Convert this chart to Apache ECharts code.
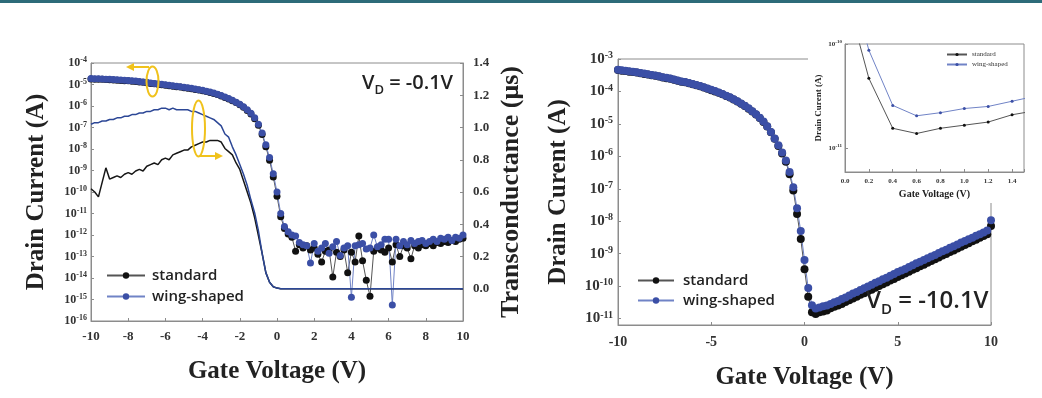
<!DOCTYPE html>
<html>
<head>
<meta charset="utf-8">
<script src="https://cdn.jsdelivr.net/npm/echarts@6/dist/echarts.min.js"></script>
<style>
html, body { margin: 0; padding: 0; background: #fff; }
#chart { width: 1042px; height: 398px; }
</style>
</head>
<body>
<div id="chart"></div>
<script>
// gate voltage sweep (V), shared by both panels
var gateV = [-10, -9.8, -9.6, -9.4, -9.2, -9, -8.8, -8.6, -8.4, -8.2, -8, -7.8, -7.6, -7.4, -7.2, -7, -6.8, -6.6, -6.4, -6.2,
    -6, -5.8, -5.6, -5.4, -5.2, -5, -4.8, -4.6, -4.4, -4.2, -4, -3.8, -3.6, -3.4, -3.2, -3, -2.8, -2.6, -2.4, -2.2,
    -2, -1.8, -1.6, -1.4, -1.2, -1, -0.8, -0.6, -0.4, -0.2, 0, 0.2, 0.4, 0.6, 0.8, 1, 1.2, 1.4, 1.6, 1.8,
    2, 2.2, 2.4, 2.6, 2.8, 3, 3.2, 3.4, 3.6, 3.8, 4, 4.2, 4.4, 4.6, 4.8, 5, 5.2, 5.4, 5.6, 5.8,
    6, 6.2, 6.4, 6.6, 6.8, 7, 7.2, 7.4, 7.6, 7.8, 8, 8.2, 8.4, 8.6, 8.8, 9, 9.2, 9.4, 9.6, 9.8, 10]

// V_D = -0.1V : drain current, log10(A)
var idLowStd = [-4.74, -4.75, -4.75, -4.76, -4.77, -4.78, -4.79, -4.80, -4.81, -4.82,
    -4.83, -4.85, -4.86, -4.88, -4.90, -4.92, -4.95, -4.97, -4.99, -5.01,
    -5.03, -5.06, -5.08, -5.10, -5.12, -5.15, -5.17, -5.20, -5.23, -5.26,
    -5.29, -5.33, -5.37, -5.42, -5.47, -5.53, -5.60, -5.67, -5.75, -5.84,
    -5.94, -6.06, -6.21, -6.37, -6.59, -6.90, -7.32, -7.90, -8.52, -9.30,
    -10.2, -11.15, -11.7, -11.95, -12.1, -12.75, -12.45, -12.6, -12.5, -12.7,
    -12.6, -12.9, -13.25, -12.75, -12.7, -13.95, -12.8, -13.0, -12.7, -13.75,
    -12.8, -13.25, -12.05, -13.2, -14.1, -14.85, -12.75, -12.6, -12.7, -12.8,
    -12.6, -13.25, -12.45, -13.0, -12.5, -12.6, -13.1, -12.5, -12.6, -12.45,
    -12.5, -12.4, -12.5, -12.35, -12.4, -12.3, -12.35, -12.25, -12.3, -12.2,
    -12.15]
var idLowWing = [-4.72, -4.73, -4.73, -4.74, -4.75, -4.76, -4.77, -4.78, -4.79, -4.80,
    -4.81, -4.83, -4.84, -4.86, -4.88, -4.90, -4.93, -4.95, -4.97, -4.99,
    -5.01, -5.04, -5.06, -5.08, -5.10, -5.13, -5.15, -5.18, -5.21, -5.24,
    -5.27, -5.31, -5.35, -5.40, -5.45, -5.51, -5.58, -5.65, -5.73, -5.82,
    -5.92, -6.04, -6.18, -6.34, -6.55, -6.85, -7.25, -7.80, -8.40, -9.15,
    -10.0, -11.0, -11.6, -11.85, -12.0, -12.05, -12.35, -12.45, -12.5, -13.3,
    -12.4, -12.75, -12.6, -12.4, -12.85, -12.55, -12.3, -12.95, -12.6, -12.5,
    -14.9, -12.5, -12.45, -12.4, -12.65, -12.6, -12.0, -12.55, -12.45, -12.2,
    -12.2, -15.25, -12.2, -12.5, -12.3, -12.45, -12.25, -12.4, -12.3, -12.25,
    -12.4, -12.3, -12.2, -12.3, -12.15, -12.2, -12.1, -12.25, -12.1, -12.15,
    -12.0]

// V_D = -0.1V : transconductance (us)
var gmStd = [0.62, 0.60, 0.57, 0.66, 0.75, 0.68, 0.69, 0.70, 0.69, 0.71,
    0.72, 0.71, 0.73, 0.74, 0.73, 0.76, 0.77, 0.78, 0.77, 0.80,
    0.81, 0.80, 0.83, 0.84, 0.85, 0.86, 0.86, 0.88, 0.89, 0.90,
    0.91, 0.91, 0.92, 0.92, 0.92, 0.91, 0.87, 0.85, 0.83, 0.78,
    0.74, 0.67, 0.60, 0.53, 0.44, 0.33, 0.22, 0.10, 0.04, 0.012,
    0.004, 0, 0, 0, 0, 0, 0, 0, 0, 0,
    0, 0, 0, 0, 0, 0, 0, 0, 0, 0,
    0, 0, 0, 0, 0, 0, 0, 0, 0, 0,
    0, 0, 0, 0, 0, 0, 0, 0, 0, 0,
    0, 0, 0, 0, 0, 0, 0, 0, 0, 0,
    0]
var gmWing = [1.02, 1.03, 1.03, 1.04, 1.04, 1.05, 1.05, 1.06, 1.06, 1.07,
    1.07, 1.08, 1.08, 1.09, 1.09, 1.10, 1.10, 1.11, 1.11, 1.12,
    1.12, 1.11, 1.12, 1.11, 1.11, 1.11, 1.11, 1.10, 1.10, 1.09,
    1.08, 1.07, 1.06, 1.05, 1.03, 1.01, 0.96, 0.94, 0.88, 0.83,
    0.77, 0.71, 0.64, 0.55, 0.47, 0.36, 0.22, 0.10, 0.04, 0.012,
    0.004, 0, 0, 0, 0, 0, 0, 0, 0, 0,
    0, 0, 0, 0, 0, 0, 0, 0, 0, 0,
    0, 0, 0, 0, 0, 0, 0, 0, 0, 0,
    0, 0, 0, 0, 0, 0, 0, 0, 0, 0,
    0, 0, 0, 0, 0, 0, 0, 0, 0, 0,
    0]

// V_D = -10.1V : drain current, log10(A)
var idHighStd = [-3.34, -3.36, -3.37, -3.39, -3.40, -3.42, -3.44, -3.46, -3.48, -3.50,
    -3.52, -3.54, -3.57, -3.59, -3.61, -3.64, -3.67, -3.70, -3.72, -3.75,
    -3.78, -3.81, -3.84, -3.88, -3.92, -3.96, -4.00, -4.04, -4.09, -4.14,
    -4.19, -4.25, -4.31, -4.38, -4.45, -4.53, -4.62, -4.71, -4.82, -4.94,
    -5.08, -5.26, -5.46, -5.68, -5.91, -6.17, -6.55, -7.05, -7.78, -8.55,
    -9.48, -10.33, -10.81, -10.86, -10.81, -10.78, -10.75, -10.68, -10.64, -10.60,
    -10.55, -10.49, -10.44, -10.38, -10.33, -10.27, -10.22, -10.16, -10.11, -10.05,
    -10.00, -9.94, -9.89, -9.83, -9.78, -9.72, -9.67, -9.61, -9.56, -9.50,
    -9.45, -9.39, -9.34, -9.28, -9.23, -9.17, -9.12, -9.06, -9.01, -8.95,
    -8.90, -8.84, -8.79, -8.73, -8.68, -8.62, -8.57, -8.51, -8.46, -8.40,
    -8.15]
var idHighWing = [-3.33, -3.35, -3.36, -3.38, -3.39, -3.41, -3.43, -3.45, -3.47, -3.49,
    -3.51, -3.53, -3.56, -3.58, -3.60, -3.63, -3.66, -3.69, -3.71, -3.74,
    -3.77, -3.80, -3.83, -3.87, -3.91, -3.95, -3.99, -4.03, -4.08, -4.13,
    -4.18, -4.24, -4.30, -4.37, -4.44, -4.52, -4.61, -4.70, -4.81, -4.93,
    -5.07, -5.25, -5.45, -5.66, -5.88, -6.13, -6.48, -6.95, -7.60, -8.30,
    -9.20, -10.06, -10.59, -10.69, -10.66, -10.62, -10.60, -10.55, -10.50, -10.46,
    -10.40, -10.35, -10.29, -10.23, -10.18, -10.12, -10.07, -10.01, -9.96, -9.90,
    -9.85, -9.79, -9.74, -9.68, -9.63, -9.57, -9.52, -9.47, -9.41, -9.36,
    -9.30, -9.25, -9.20, -9.14, -9.09, -9.04, -8.98, -8.93, -8.88, -8.82,
    -8.77, -8.72, -8.66, -8.61, -8.56, -8.51, -8.45, -8.40, -8.35, -8.29,
    -7.97]

var legendNames = ['standard', 'wing-shaped']

var serif = 'Liberation Serif'
var sans = 'Open Sans'
var axisGray = '#8c8c8c'

var chartDom = document.getElementById('chart')
var myChart = echarts.init(chartDom)

// zip the sweep with a data column
function pairs(arr) {
    return gateV.map(function (v, i) { return [v, arr[i]] })
}

// 10^n labels for log10 axes, only on whole decades
function decadeLabel(val) {
    var n = Math.round(val)
    if (Math.abs(val - n) > 1e-6) return ''
    return '{b|10}{s|' + n + '}'
}

function decadeRich(base, sup) {
    return {
        b: { fontFamily: serif, fontWeight: 'bold', fontSize: base, color: '#333', lineHeight: base + 2 },
        s: { fontFamily: serif, fontWeight: 'bold', fontSize: sup, color: '#333', verticalAlign: 'top', lineHeight: base + 2 }
    }
}

function axisBase(gridIndex, labelSize) {
    return {
        gridIndex: gridIndex,
        type: 'value',
        axisLine: { show: true, onZero: false, lineStyle: { color: axisGray } },
        axisTick: { show: true, inside: true, length: 3, lineStyle: { color: axisGray } },
        splitLine: { show: false },
        axisLabel: { fontFamily: serif, fontWeight: 'bold', fontSize: labelSize, color: '#333' },
        nameTextStyle: { fontFamily: serif, fontWeight: 'bold', color: '#222' }
    }
}

function merge(a, b) {
    return echarts.util.merge(a, b, true)
}

function idSeries(name, arr, xi, yi, size, z) {
    var blue = name === 'wing-shaped'
    return {
        type: 'line',
        name: name,
        xAxisIndex: xi,
        yAxisIndex: yi,
        data: pairs(arr),
        symbol: 'circle',
        symbolSize: size,
        showAllSymbol: true,
        itemStyle: { color: blue ? '#3b4fa6' : '#111' },
        lineStyle: { color: blue ? '#7083c6' : '#555', width: 1 },
        z: z || 2
    }
}

function getOption() {
    return {
        animation: false,
        backgroundColor: '#fff',
        grid: [
            { left: 91, top: 63, width: 372, height: 258, show: true, borderColor: axisGray, borderWidth: 1 },
            { left: 618, top: 59, width: 373, height: 266, show: true, borderColor: axisGray, borderWidth: 1 },
            { left: 845, top: 44, width: 179, height: 128, show: true, borderColor: axisGray, borderWidth: 1, z: 11 }
        ],
        xAxis: [
            merge(axisBase(0, 13), {
                min: -10, max: 10, interval: 2,
                axisLabel: { margin: 9 },
                name: 'Gate Voltage (V)', nameLocation: 'middle', nameGap: 38,
                nameTextStyle: { fontSize: 25 }
            }),
            merge(axisBase(1, 14), {
                min: -10, max: 10, interval: 5,
                axisLabel: { margin: 10 },
                name: 'Gate Voltage (V)', nameLocation: 'middle', nameGap: 40,
                nameTextStyle: { fontSize: 25 }
            }),
            merge(axisBase(2, 7), {
                min: 0, max: 1.5, interval: 0.2, z: 11,
                axisLabel: {
                    margin: 6,
                    formatter: function (v) { return v > 1.45 ? '' : v.toFixed(1) }
                },
                name: 'Gate Voltage (V)', nameLocation: 'middle', nameGap: 17,
                nameTextStyle: { fontSize: 10 }
            })
        ],
        yAxis: [
            merge(axisBase(0, 12), {
                min: -16, max: -4, interval: 1,
                axisLabel: { margin: 4, formatter: decadeLabel, rich: decadeRich(12, 8) },
                name: 'Drain Current (A)', nameLocation: 'middle', nameRotate: 90, nameGap: 42,
                nameTextStyle: { fontSize: 25 }
            }),
            merge(axisBase(0, 13), {
                position: 'right',
                min: -0.2, max: 1.4, interval: 0.2,
                axisLabel: {
                    margin: 10,
                    formatter: function (v) { return v < -0.05 ? '' : v.toFixed(1) }
                },
                name: 'Transconductance (\u03bcs)', nameLocation: 'middle', nameRotate: 90, nameGap: 35,
                nameTextStyle: { fontSize: 26 }
            }),
            merge(axisBase(1, 15), {
                min: -11.2, max: -3, splitNumber: 8,
                axisLabel: { margin: 5, formatter: decadeLabel, rich: decadeRich(15, 10) },
                name: 'Drain Curent (A)', nameLocation: 'middle', nameRotate: 90, nameGap: 47,
                nameTextStyle: { fontSize: 25 }
            }),
            merge(axisBase(2, 7), {
                min: -11.23, max: -10, splitNumber: 1, z: 11,
                axisLabel: { margin: 3, formatter: decadeLabel, rich: decadeRich(7, 5) },
                name: 'Drain Curent (A)', nameLocation: 'middle', nameRotate: 90, nameGap: 22,
                nameTextStyle: { fontSize: 9 }
            })
        ],
        legend: [
            {
                data: legendNames, orient: 'vertical', left: 106, top: 268, padding: 0,
                itemWidth: 38, itemHeight: 8, itemGap: 6,
                textStyle: { fontFamily: sans, fontWeight: 600, fontSize: 15, color: '#222', padding: [0, 0, 0, 2] }
            },
            {
                data: legendNames, orient: 'vertical', left: 637, top: 273, padding: 0,
                itemWidth: 36, itemHeight: 8, itemGap: 5,
                textStyle: { fontFamily: sans, fontWeight: 600, fontSize: 15, color: '#222', padding: [0, 0, 0, 4] }
            },
            {
                data: legendNames, orient: 'vertical', left: 946, top: 51, z: 13, padding: 0,
                itemWidth: 20, itemHeight: 4, itemGap: 3,
                textStyle: { fontFamily: serif, fontSize: 7, color: '#333' }
            }
        ],
        graphic: [
            { type: 'rect', shape: { x: 0, y: 0, width: 1042, height: 3 }, style: { fill: '#2d6b79' }, z: 20 },
            { type: 'rect', shape: { x: 808, y: 20, width: 234, height: 183 }, style: { fill: '#fff' }, z: 10 },
            {
                type: 'text', left: 362, top: 73, z: 20,
                style: {
                    text: '{v|V}{d|D}{v| = -0.1V}',
                    rich: {
                        v: { fontFamily: sans, fontWeight: 600, fontSize: 20, fill: '#222', lineHeight: 27 },
                        d: { fontFamily: sans, fontWeight: 600, fontSize: 13, fill: '#222', verticalAlign: 'bottom', lineHeight: 21 }
                    }
                }
            },
            {
                type: 'text', left: 866, top: 289, z: 20,
                style: {
                    text: '{v|V}{d|D}{v| = -10.1V}',
                    rich: {
                        v: { fontFamily: sans, fontWeight: 600, fontSize: 24, fill: '#222', lineHeight: 32 },
                        d: { fontFamily: sans, fontWeight: 600, fontSize: 15, fill: '#222', verticalAlign: 'bottom', lineHeight: 24 }
                    }
                }
            },
            // yellow guide marks: left ellipse -> Id axis, right ellipse -> gm axis
            { type: 'ellipse', shape: { cx: 152.5, cy: 81.5, rx: 6, ry: 15 }, style: { fill: 'none', stroke: '#f0c21c', lineWidth: 2 }, z: 6 },
            { type: 'polyline', shape: { points: [[149, 67], [133, 67]] }, style: { stroke: '#f0c21c', lineWidth: 2 }, z: 6 },
            { type: 'polygon', shape: { points: [[126, 67], [134, 63], [134, 71]] }, style: { fill: '#f0c21c' }, z: 6 },
            { type: 'ellipse', shape: { cx: 198.5, cy: 128.5, rx: 6.5, ry: 28 }, style: { fill: 'none', stroke: '#f0c21c', lineWidth: 2 }, z: 6 },
            { type: 'polyline', shape: { points: [[200, 156], [216, 156]] }, style: { stroke: '#f0c21c', lineWidth: 2 }, z: 6 },
            { type: 'polygon', shape: { points: [[223, 156], [215, 152], [215, 160]] }, style: { fill: '#f0c21c' }, z: 6 }
        ],
        series: [
            { type: 'line', name: 'gm standard', xAxisIndex: 0, yAxisIndex: 1, data: pairs(gmStd), showSymbol: false, lineStyle: { color: '#161616', width: 1.5 } },
            { type: 'line', name: 'gm wing-shaped', xAxisIndex: 0, yAxisIndex: 1, data: pairs(gmWing), showSymbol: false, lineStyle: { color: '#2c4796', width: 1.5 } },
            idSeries('standard', idLowStd, 0, 0, 7),
            idSeries('wing-shaped', idLowWing, 0, 0, 7),
            idSeries('standard', idHighStd, 1, 2, 8),
            idSeries('wing-shaped', idHighWing, 1, 2, 8),
            idSeries('standard', idHighStd, 2, 3, 3, 12),
            idSeries('wing-shaped', idHighWing, 2, 3, 3, 12)
        ]
    }
}

myChart.setOption(getOption())
</script>
</body>
</html>
